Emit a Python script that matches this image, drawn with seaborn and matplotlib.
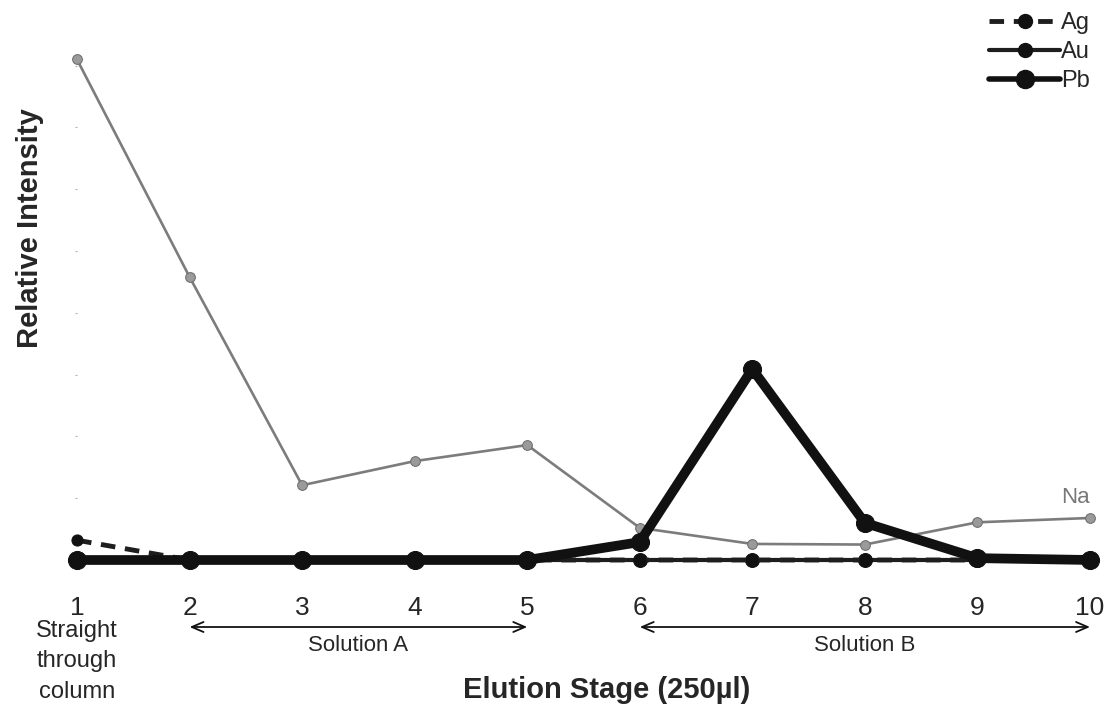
import numpy as np
import pandas as pd
import matplotlib
matplotlib.use("Agg")
import matplotlib.pyplot as plt
from matplotlib.lines import Line2D
import seaborn as sns

# Elution stages and relative intensities (arbitrary units)
stages = [1, 2, 3, 4, 5, 6, 7, 8, 9, 10]
na_vals = [8.10, 4.58, 1.21, 1.60, 1.86, 0.52, 0.26, 0.25, 0.61, 0.68]
ag_vals = [0.32, 0.00, 0.00, 0.00, 0.00, 0.00, 0.00, 0.00, 0.00, 0.00]
au_vals = [0.00, 0.00, 0.00, 0.00, 0.00, 0.00, 0.00, 0.00, 0.00, 0.00]
pb_vals = [0.00, 0.00, 0.00, 0.00, 0.00, 0.29, 3.09, 0.60, 0.03, 0.00]
tick_labels = ["1", "2", "3", "4", "5", "6", "7", "8", "9", "10"]

sns.set_theme(style="white")
plt.rcParams["font.family"] = ["Liberation Sans", "DejaVu Sans"]

fig = plt.figure(figsize=(11.10, 7.07), dpi=100)
ax = fig.add_axes([77 / 1110, 147 / 707, 1013 / 1110, 8.5 * 61.8 / 707])

df = pd.DataFrame({"stage": stages, "Na": na_vals, "Ag": ag_vals,
                   "Au": au_vals, "Pb": pb_vals})

sns.lineplot(data=df, x="stage", y="Na", ax=ax, color="#7c7c7c", lw=1.9,
             marker="o", markersize=7, markeredgecolor="#6e6e6e",
             markerfacecolor="#9a9a9a", clip_on=False, zorder=2)
sns.lineplot(data=df, x="stage", y="Au", ax=ax, color="#1e1e1e", lw=3,
             marker="o", markersize=10, markeredgecolor="#111111",
             markerfacecolor="#111111", clip_on=False, zorder=3)
sns.lineplot(data=df, x="stage", y="Ag", ax=ax, color="#1e1e1e", lw=3.5,
             linestyle=(0, (3, 2)), marker="o", markersize=8,
             markeredgecolor="#111111", markerfacecolor="#111111",
             clip_on=False, zorder=4)
sns.lineplot(data=df, x="stage", y="Pb", ax=ax, color="#111111", lw=7,
             marker="o", markersize=13, markeredgecolor="#111111",
             markerfacecolor="#111111", clip_on=False, zorder=5)

ax.set_xlim(1, 10)
ax.set_ylim(0, 8.5)
ax.set_xticks(stages)
ax.set_xticklabels(tick_labels, fontsize=19)
ax.set_yticks(np.arange(1, 9))
ax.set_yticklabels([])
ax.tick_params(axis="x", length=0, pad=26)
ax.tick_params(axis="y", length=1.2, width=0.8, color="#b0b0b0", left=True)
ax.set_xlabel("")
ax.set_ylabel("")
for s in ax.spines.values():
    s.set_visible(False)

# Na label at the end of the grey trace
ax.text(10, na_vals[-1] + 0.16, "Na", color="#777777", fontsize=16,
        ha="right", va="bottom")

# Solution ranges below the axis
xt = ax.get_xaxis_transform()
arrow_y = -67 / 525.3
for x0, x1, label in [(2, 5, "Solution A"), (6, 10, "Solution B")]:
    ax.annotate("", xy=(x0, arrow_y), xytext=(x1, arrow_y), xycoords=xt,
                textcoords=xt,
                arrowprops=dict(arrowstyle="<->,head_length=0.7,head_width=0.3",
                                color="#111111", lw=1.3, shrinkA=0, shrinkB=0))
    ax.text((x0 + x1) / 2, arrow_y - 0.016, label, transform=xt,
            ha="center", va="top", fontsize=16)

ax.text(1, -60 / 525.3, "Straight\nthrough\ncolumn", transform=xt,
        ha="center", va="top", fontsize=17, linespacing=1.5)

fig.text(607 / 1110, 1 - 690 / 707, "Elution Stage (250µl)",
         ha="center", va="center", fontsize=21, fontweight="bold")
fig.text(30 / 1110, 1 - 228 / 707, "Relative Intensity", rotation=90,
         ha="center", va="center", fontsize=21, fontweight="bold")

handles = [
    Line2D([], [], color="#1e1e1e", lw=3.5, linestyle=(0, (3, 2)),
           marker="o", markersize=10, markerfacecolor="#111111",
           markeredgecolor="#111111"),
    Line2D([], [], color="#1e1e1e", lw=3, marker="o", markersize=10,
           markerfacecolor="#111111", markeredgecolor="#111111"),
    Line2D([], [], color="#111111", lw=4, marker="o", markersize=13,
           markerfacecolor="#111111", markeredgecolor="#111111"),
]
fig.legend(handles, ["Ag", "Au", "Pb"], loc="upper right",
           bbox_to_anchor=(0.993, 1.0), frameon=False, fontsize=17,
           handlelength=3.0, handletextpad=0.05, labelspacing=0.3,
           borderaxespad=0.1)

fig.savefig("out.png", dpi=100)
